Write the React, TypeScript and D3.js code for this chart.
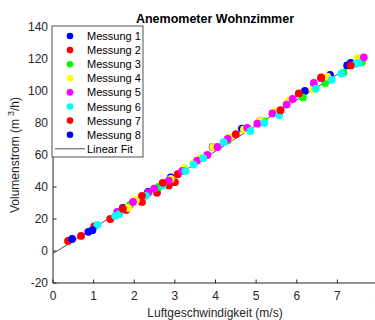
import React from "react";
import * as d3 from "d3";

// Messreihen: [Luftgeschwindigkeit m/s, Volumenstrom m3/h]
const messung1 = [[1.72, 27], [2.34, 37], [2.9, 46], [3.93, 65], [4.65, 76.5], [5.1, 81.5], [5.57, 86.5], [6.2, 100], [6.82, 110], [7.24, 116], [7.33, 117.5]];
const messung2 = [[0.37, 6.3], [0.69, 9.4], [1.02, 15.6], [1.41, 20], [1.8, 25.7], [2.19, 30.7], [2.56, 36.4], [2.85, 41], [3.0, 43], [3.07, 48]];
const messung3 = [[1.9, 29], [2.6, 40], [4.3, 69], [5.2, 81], [6.15, 96], [6.7, 105], [7.15, 111.5], [7.6, 118]];
const messung4 = [[1.85, 27], [2.05, 32], [2.9, 45], [3.24, 52], [3.46, 55], [3.63, 58], [3.94, 65], [4.35, 71], [4.7, 76], [5.1, 81.5], [5.45, 87], [5.8, 94], [6.4, 101], [6.75, 109], [7.5, 120.5]];
const messung5 = [[1.58, 24.5], [1.97, 30.7], [2.34, 36.4], [2.49, 38.9], [2.85, 44], [3.18, 50], [3.55, 56.5], [3.8, 60], [4.05, 65], [4.3, 70], [4.78, 77], [5.03, 79.6], [5.4, 86], [5.75, 91.5], [5.9, 95], [6.42, 105], [6.6, 108], [7.65, 121]];
const messung6 = [[1.09, 16.3], [1.53, 22], [1.63, 23], [2.29, 34.5], [2.7, 41], [3.26, 50], [3.46, 54], [3.7, 58], [4.2, 68], [4.86, 75], [5.2, 80], [5.57, 85], [6.47, 101.5], [6.86, 107], [7.1, 111], [7.45, 117], [7.52, 117.5]];
const messung7 = [[1.72, 26.4], [2.19, 34.5], [2.7, 42.6], [4.5, 73], [5.6, 88], [6.05, 98.5], [6.6, 108.5], [7.33, 116]];
const messung8 = [[0.47, 7.5], [0.87, 12], [0.97, 13]];

const seriesNames = ["Messung 1", "Messung 2", "Messung 3", "Messung 4", "Messung 5", "Messung 6", "Messung 7", "Messung 8"];
const seriesData = [messung1, messung2, messung3, messung4, messung5, messung6, messung7, messung8];
const seriesColors = ["#0000ff", "#ff0000", "#00ff00", "#ffff00", "#ff00ff", "#00ffff", "#ff0000", "#0000ff"];

// Linear Fit y = a*x + b
const fitSlope = 16.0;
const fitIntercept = -1.6;
const fitRange = [0, 7.65];

const xTicks = [0, 1, 2, 3, 4, 5, 6, 7, 8];
const yTicks = [-20, 0, 20, 40, 60, 80, 100, 120, 140];

const font = "'Liberation Sans', Arial, Helvetica, sans-serif";
const axisColor = "#262626";

const App = () => {
  const width = 375;
  const height = 320;
  const x = d3.scaleLinear().domain([0, 8]).range([53, 378]);
  const y = d3.scaleLinear().domain([-20, 140]).range([283, 27]);

  const fitLine = d3
    .line<number>()
    .x((d) => x(d))
    .y((d) => y(fitSlope * d + fitIntercept));

  const legendX = 52;
  const legendY = 26;
  const rowH = 14.1;

  return (
    <svg
      width={width}
      height={height}
      style={{ position: "fixed", left: 0, top: 0, background: "#fff" }}
      fontFamily={font}
    >
      <rect width={width} height={height} fill="#fff" />

      {/* fit line */}
      <path d={fitLine(fitRange) as string} stroke="#3a3a3a" strokeWidth={0.9} fill="none" />

      {/* points */}
      {seriesData.map((s, i) => (
        <g key={i}>
          {s.map((p, j) => (
            <circle key={j} cx={x(p[0])} cy={y(p[1])} r={3.9} fill={seriesColors[i]} />
          ))}
        </g>
      ))}

      {/* axes */}
      <line x1={x(0)} x2={width} y1={y(-20)} y2={y(-20)} stroke={axisColor} strokeWidth={1} />
      <line x1={x(0)} x2={x(0)} y1={y(-20)} y2={y(140)} stroke={axisColor} strokeWidth={1} />
      {xTicks.map((t) => (
        <g key={t}>
          <line x1={x(t)} x2={x(t)} y1={y(-20)} y2={y(-20) - 3.5} stroke={axisColor} />
          <text x={x(t)} y={300} textAnchor="middle" fontSize={12} fill={axisColor}>
            {t}
          </text>
        </g>
      ))}
      {yTicks.map((t) => (
        <g key={t}>
          <line x1={x(0)} x2={x(0) + 3.5} y1={y(t)} y2={y(t)} stroke={axisColor} />
          <text x={48} y={y(t) + 4} textAnchor="end" fontSize={12} fill={axisColor}>
            {t}
          </text>
        </g>
      ))}

      {/* title and labels */}
      <text x={215} y={23} textAnchor="middle" fontSize={12.5} fontWeight="bold" fill="#000">
        Anemometer Wohnzimmer
      </text>
      <text x={215} y={317} textAnchor="middle" fontSize={12} fill={axisColor}>
        Luftgeschwindigkeit (m/s)
      </text>
      <text transform={`translate(19,155) rotate(-90)`} textAnchor="middle" fontSize={12} fill={axisColor}>
        Volumenstrom (m
        <tspan dx={3} dy={-5} fontSize={9}>3</tspan>
        <tspan dy={5}>/h)</tspan>
      </text>

      {/* legend */}
      <rect x={legendX} y={legendY} width={91} height={131} fill="#fff" stroke="#262626" strokeWidth={0.8} />
      {seriesNames.map((n, i) => (
        <g key={n}>
          <circle cx={70} cy={legendY + 10 + i * rowH} r={3.3} fill={seriesColors[i]} />
          <text x={87} y={legendY + 14 + i * rowH} fontSize={11} fill="#000">
            {n}
          </text>
        </g>
      ))}
      <line x1={55} x2={85} y1={legendY + 10 + 8 * rowH} y2={legendY + 10 + 8 * rowH} stroke="#3a3a3a" strokeWidth={0.9} />
      <text x={87} y={legendY + 14 + 8 * rowH} fontSize={11} fill="#000">
        Linear Fit
      </text>
    </svg>
  );
};

export default App;
